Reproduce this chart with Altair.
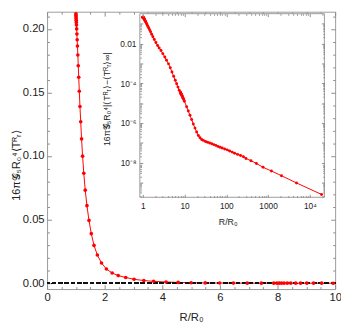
import math
import altair as alt
import pandas as pd

# ---- data ----
R_main = [1.000, 1.003, 1.006, 1.009, 1.012, 1.016, 1.021, 1.028, 1.036, 1.045,
          1.055, 1.068, 1.083, 1.099, 1.119, 1.142, 1.168, 1.198, 1.233, 1.275,
          1.325, 1.385, 1.455, 1.535, 1.630, 1.745, 1.890, 2.060, 2.260, 2.470,
          2.730, 3.020, 3.360, 3.700, 4.130, 4.550, 5.000, 5.490, 5.990, 6.470,
          6.950, 7.440, 7.870, 7.980, 8.060, 8.140, 8.230, 8.340, 8.460, 8.630,
          8.800, 9.020, 9.250, 9.530, 9.930]
T_main = [0.2119, 0.2106, 0.2094, 0.2081, 0.2068, 0.2051, 0.2030, 0.2000, 0.1960, 0.1915,
          0.1865, 0.1795, 0.1710, 0.1620, 0.1510, 0.1390, 0.1270, 0.1135, 0.0999, 0.0865,
          0.0732, 0.0610, 0.0494, 0.0390, 0.0297, 0.0222, 0.0159, 0.0112, 0.0080, 0.0060,
          0.0045, 0.0031, 0.0021, 1.45e-3, 9.5e-4, 6.1e-4, 3.7e-4, 2.23e-4, 1.42e-4, 9.4e-5,
          6.4e-5, 4.5e-5, 3.6e-5, 3.4e-5, 3.2e-5, 3.1e-5, 3.0e-5, 2.8e-5, 2.66e-5, 2.44e-5,
          2.26e-5, 2.0e-5, 1.78e-5, 1.53e-5, 1.24e-5]
# extra points only visible in the log-log inset
R_tail = [11.2, 12.3, 13.5, 14.8, 16.2, 17.8, 19.5, 21.4, 23.4, 25.7,
          28.2, 31.6, 35.5, 39.8, 44.7, 50.1, 56.2, 63.1, 70.8, 79.4,
          91.2, 105, 120, 138, 158, 186, 219, 257, 295, 389,
          525, 759, 1202, 2089, 4786, 19055]
T_tail = [6.6e-6, 4.0e-6, 2.45e-6, 1.48e-6, 8.9e-7, 5.5e-7, 3.47e-7, 2.34e-7, 1.78e-7, 1.48e-7,
          1.32e-7, 1.17e-7, 1.07e-7, 9.8e-8, 8.9e-8, 8.1e-8, 7.4e-8, 6.6e-8, 6.0e-8, 5.5e-8,
          4.9e-8, 4.4e-8, 3.9e-8, 3.4e-8, 3.0e-8, 2.6e-8, 2.3e-8, 2.0e-8, 1.62e-8, 1.25e-8,
          9.1e-9, 5.8e-9, 3.8e-9, 2.2e-9, 9.5e-10, 2.5e-10]

x_major = [0, 2, 4, 6, 8, 10]
x_minor = [0.5, 1, 1.5, 2.5, 3, 3.5, 4.5, 5, 5.5, 6.5, 7, 7.5, 8.5, 9, 9.5]
y_major = [0.0, 0.05, 0.10, 0.15, 0.20]
y_minor = [0.01, 0.02, 0.03, 0.04, 0.06, 0.07, 0.08, 0.09, 0.11, 0.12, 0.13, 0.14,
           0.16, 0.17, 0.18, 0.19, 0.21]
ix_major = [1, 10, 100, 1000, 10000]
ix_labels = ["1", "10", "100", "1000", "10\u2074"]
ix_minor = [m * d for d in [1, 10, 100, 1000, 10000] for m in range(2, 10) if m * d < 22000]
iy_major = [1e-1, 1e-2, 1e-3, 1e-4, 1e-5, 1e-6, 1e-7, 1e-8, 1e-9]
iy_label_vals = [1e-2, 1e-4, 1e-6, 1e-8]
iy_labels = ["0.01", "10\u207b\u2074", "10\u207b\u2076", "10\u207b\u2078"]
iy_minor = [m * d for d in [1e-2, 1e-3, 1e-4, 1e-5, 1e-6, 1e-7, 1e-8, 1e-9, 1e-10]
            for m in range(2, 10) if 1.8e-10 < m * d < 0.32]

# ---- layout ----
W, H = 295, 284
TS, TSm = 4.5, 2.5          # main tick lengths
TSi, TSim = 3, 1.6          # inset tick lengths
IX0, IX1 = 95, 284          # inset x range (relative to plot)
IY0, IY1 = 190, 2           # inset y range (bottom, top)
FONT = "Liberation Sans"
TICK = "#8c8c8c"

main_df = pd.DataFrame({"R": R_main, "T": T_main})
inset_df = pd.DataFrame({"R": R_main + R_tail, "T": T_main + T_tail})
frame_df = pd.DataFrame({"x0": [0.85], "x1": [22300], "y0": [1.8e-10], "y1": [0.32]})

xs = alt.Scale(domain=[0, 10], nice=False, zero=False)
ys = alt.Scale(domain=[-0.0046, 0.2135], nice=False, zero=False)
ixs = alt.Scale(type="log", domain=[0.85, 22300], range=[IX0, IX1], nice=False)
iys = alt.Scale(type="log", domain=[1.8e-10, 0.32], range=[IY0, IY1], nice=False)


def lab_expr(vals, labels):
    e = ""
    for v, lab in zip(vals, labels):
        e += f"abs(log(datum.value)/LN10 - ({math.log10(v):.4f})) < 0.01 ? '{lab}' : "
    return e + "''"


def ax(**kw):
    base = dict(grid=False, domain=False, tickColor=TICK, tickWidth=1,
                labelFlush=False, labelOverlap=False, labelBound=False)
    base.update(kw)
    return alt.Axis(**base)


def ghost(data, xsc, ysc, xaxis, yaxis):
    return alt.Chart(data).mark_point(opacity=0).encode(
        x=alt.X("R:Q", scale=xsc, axis=xaxis),
        y=alt.Y("T:Q", scale=ysc, axis=yaxis),
    )


# ---- main plot ----
mx = ax(orient="bottom", values=x_major, tickSize=TS, offset=-TS, labelPadding=3,
        format="d", labelFontSize=11.5, title="R/R\u2080", titleFontSize=11.5,
        titleX=W / 2, titleY=29 + TS, titleBaseline="middle")
my = ax(orient="left", values=y_major, tickSize=TS, offset=-TS, labelPadding=3,
        format=".2f", labelFontSize=11.5,
        title="16\u03c0\U0001D4A2\u2085R\u2080\u2074\u27e8T\u1d3f\u1d63\u27e9",
        titleFontSize=11, titleX=-31 - TS, titleY=157, titleAngle=270,
        titleBaseline="middle", titleAlign="center")

line = alt.Chart(main_df).mark_line(color="#ff0000", strokeWidth=1).encode(
    x=alt.X("R:Q", scale=xs, axis=mx), y=alt.Y("T:Q", scale=ys, axis=my))
zero = alt.Chart(main_df).mark_rule(color="#111111", strokeWidth=1.3,
                                    strokeDash=[4, 2.5]).encode(y=alt.datum(0))
pts = alt.Chart(main_df).mark_circle(color="#ff0000", size=14, opacity=1).encode(
    x=alt.X("R:Q", scale=xs, axis=mx), y=alt.Y("T:Q", scale=ys, axis=my))
main = alt.layer(line, zero, pts)

main_minor = ghost(main_df, xs, ys,
                   ax(orient="bottom", values=x_minor, labels=False, tickSize=TSm, offset=-TSm, title=None),
                   ax(orient="left", values=y_minor, labels=False, tickSize=TSm, offset=-TSm, title=None))
main_top = ghost(main_df, xs, ys,
                 ax(orient="top", values=x_major, labels=False, tickSize=TS, offset=-TS, title=None),
                 ax(orient="right", values=y_major, labels=False, tickSize=TS, offset=-TS, title=None))
main_top_minor = ghost(main_df, xs, ys,
                       ax(orient="top", values=x_minor, labels=False, tickSize=TSm, offset=-TSm, title=None),
                       ax(orient="right", values=y_minor, labels=False, tickSize=TSm, offset=-TSm, title=None))

# ---- inset ----
off_b = -(H - IY0)
off_l = -IX0
off_t = -IY1
off_r = IX1 - W
ix_ax = ax(orient="bottom", values=ix_major, tickSize=TSi, offset=off_b - TSi, labelPadding=4,
           labelExpr=lab_expr(ix_major, ix_labels), labelFontSize=8.5, zindex=1,
           title="R/R\u2080", titleFontSize=9, titleX=185, titleY=25 + TSi,
           titleBaseline="middle")
iy_ax = ax(orient="left", values=iy_major, tickSize=TSi, offset=off_l - TSi, labelPadding=4,
           labelExpr=lab_expr(iy_label_vals, iy_labels), labelFontSize=8.5, zindex=1,
           title="16\u03c0\U0001D4A2\u2085R\u2080\u2074|\u27e8T\u1d3f\u1d63\u27e9\u2212\u27e8T\u1d3f\u1d63\u27e9\u221e|",
           titleFontSize=9, titleX=-34 - TSi, titleY=89, titleAngle=270,
           titleBaseline="middle", titleAlign="center")

frame = alt.Chart(frame_df).mark_rect(fill="white", stroke="#9a9a9a", strokeWidth=1).encode(
    x=alt.X("x0:Q", scale=ixs, axis=ix_ax), x2="x1:Q",
    y=alt.Y("y0:Q", scale=iys, axis=iy_ax), y2="y1:Q")
iline = alt.Chart(inset_df).mark_line(color="#ff0000", strokeWidth=1).encode(
    x=alt.X("R:Q", scale=ixs, axis=ix_ax), y=alt.Y("T:Q", scale=iys, axis=iy_ax))
ipts = alt.Chart(inset_df).mark_circle(color="#ff0000", size=9, opacity=1).encode(
    x=alt.X("R:Q", scale=ixs, axis=ix_ax), y=alt.Y("T:Q", scale=iys, axis=iy_ax))
inset = alt.layer(frame, iline, ipts)

inset_minor = ghost(inset_df, ixs, iys,
                    ax(orient="bottom", values=ix_minor, labels=False, tickSize=TSim, offset=off_b - TSim, title=None, zindex=1),
                    ax(orient="left", values=iy_minor, labels=False, tickSize=TSim, offset=off_l - TSim, title=None, zindex=1))
inset_top = ghost(inset_df, ixs, iys,
                  ax(orient="top", values=ix_major, labels=False, tickSize=TSi, offset=off_t - TSi, title=None, zindex=1),
                  ax(orient="right", values=iy_major, labels=False, tickSize=TSi, offset=off_r - TSi, title=None, zindex=1))
inset_top_minor = ghost(inset_df, ixs, iys,
                        ax(orient="top", values=ix_minor, labels=False, tickSize=TSim, offset=off_t - TSim, title=None, zindex=1),
                        ax(orient="right", values=iy_minor, labels=False, tickSize=TSim, offset=off_r - TSim, title=None, zindex=1))

chart = alt.layer(
    main, main_minor, main_top, main_top_minor,
    inset, inset_minor, inset_top, inset_top_minor,
).resolve_scale(x="independent", y="independent").properties(
    width=W, height=H,
    padding={"left": 40, "top": 0, "right": 6, "bottom": 34},
    autosize=alt.AutoSizeParams(type="none"),
).configure_view(stroke="#9a9a9a", strokeWidth=1).configure_axis(
    labelFont=FONT, titleFont=FONT, labelColor="#222222", titleColor="#222222",
    titleFontWeight="normal",
)

chart.save("out.html", embed_options={"renderer": "svg", "actions": False})
